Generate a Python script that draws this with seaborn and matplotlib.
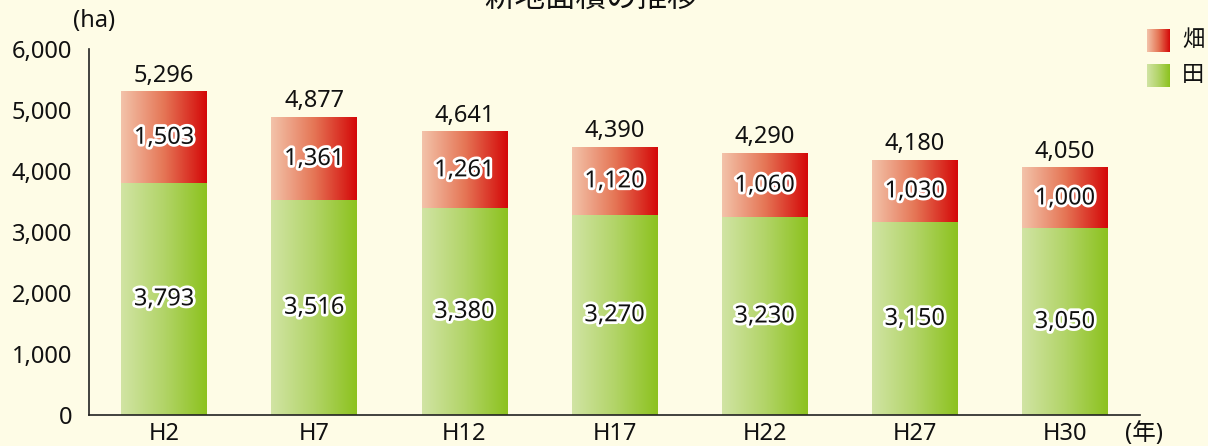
import numpy as np
import pandas as pd
import matplotlib
matplotlib.use("Agg")
import matplotlib.pyplot as plt
import matplotlib.patheffects as pe
from matplotlib.colors import LinearSegmentedColormap
import seaborn as sns

# --- Daten ---
years = ["H2", "H7", "H12", "H17", "H22", "H27", "H30"]
ta = [3793, 3516, 3380, 3270, 3230, 3150, 3050]       # 田
hata = [1503, 1361, 1261, 1120, 1060, 1030, 1000]     # 畑
total = [5296, 4877, 4641, 4390, 4290, 4180, 4050]

BG = "#FEFCE6"
red_cmap = LinearSegmentedColormap.from_list("red", ["#F3C3AA", "#E57656", "#D40808"])
green_cmap = LinearSegmentedColormap.from_list("green", ["#D1E4A4", "#B2D468", "#8CC21E"])

sns.set_style("white")
plt.rcParams["font.family"] = ["Noto Sans", "Noto Sans CJK JP", "DejaVu Sans"]
FS = 17

df = pd.DataFrame({"year": years, "ta": ta, "hata": hata, "total": total})

fig = plt.figure(figsize=(12.08, 4.46), dpi=100, facecolor=BG)
ax = fig.add_axes([89 / 1208, 31 / 446, 1051 / 1208, 366 / 446])
ax.set_facecolor(BG)

sns.barplot(data=df, x="year", y="total", color="#E57656", width=0.57, ax=ax)
sns.barplot(data=df, x="year", y="ta", color="#B2D468", width=0.57, ax=ax)

grad = np.linspace(0, 1, 256).reshape(1, -1)
n = len(years)
for i, p in enumerate(ax.patches):
    x, y, w, h = p.get_x(), p.get_y(), p.get_width(), p.get_height()
    cmap = red_cmap if i < n else green_cmap
    ax.imshow(grad, extent=[x, x + w, y, y + h], aspect="auto", cmap=cmap,
              zorder=1, interpolation="bilinear")
    p.set_alpha(0)

stroke = [pe.withStroke(linewidth=4, foreground="white")]
for i in range(n):
    ax.text(i, ta[i] / 2, f"{ta[i]:,}", ha="center", va="center",
            fontsize=FS, color="#111", path_effects=stroke, zorder=3)
    ax.text(i, ta[i] + hata[i] / 2, f"{hata[i]:,}", ha="center", va="center",
            fontsize=FS, color="#111", path_effects=stroke, zorder=3)
    ax.text(i, total[i] + 70, f"{total[i]:,}", ha="center", va="bottom",
            fontsize=FS, color="#111", zorder=3)

ax.set_xlim(-0.5, n - 0.5)
ax.set_ylim(0, 6000)
ax.set_yticks(range(0, 6001, 1000))
ax.set_yticklabels([f"{v:,}" for v in range(0, 6001, 1000)])
ax.set_xticks(range(n))
ax.set_xticks([i + 0.5 for i in range(n)], minor=True)
ax.set_xlabel("")
ax.set_ylabel("")

ax.tick_params(axis="y", direction="in", length=6, width=1.2, color="#222",
               pad=12, labelsize=FS, labelcolor="#111")
ax.tick_params(axis="x", which="major", length=0, pad=5, labelsize=FS, labelcolor="#111")
ax.tick_params(axis="x", which="minor", direction="in", length=6, width=1.2, color="#222")

ax.spines[["top", "right"]].set_visible(False)
for s in ["left", "bottom"]:
    ax.spines[s].set_color("#222")
    ax.spines[s].set_linewidth(1.2)

# Titel und Einheiten
fig.text(591 / 1208, 1 - 7 / 446, "耕地面積の推移", ha="center", va="baseline",
         fontsize=22, color="#111")
fig.text(94 / 1208, 1 - 21 / 446, "(ha)", ha="center", va="center", fontsize=FS, color="#111")
fig.text(1144 / 1208, 1 - 434 / 446, "(年)", ha="center", va="center", fontsize=FS, color="#111")

# Legende
for (ytop, cmap, label) in [(29, red_cmap, "畑"), (64, green_cmap, "田")]:
    lax = fig.add_axes([1147 / 1208, 1 - (ytop + 23) / 446, 23 / 1208, 23 / 446])
    lax.imshow(grad, aspect="auto", cmap=cmap, interpolation="bilinear")
    lax.axis("off")
    fig.text(1193 / 1208, 1 - (ytop + 11.5) / 446, label, ha="center", va="center",
             fontsize=16, color="#111")

fig.savefig("out.png", dpi=100, facecolor=BG)
